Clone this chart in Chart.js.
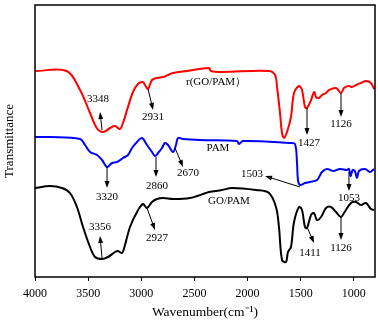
<!DOCTYPE html>
<html>
<head>
<meta charset="utf-8">
<script src="https://cdn.jsdelivr.net/npm/chart.js@4.4.1/dist/chart.umd.min.js"></script>
<style>
  html, body { margin: 0; padding: 0; background: #fff; }
  canvas { display: block; }
</style>
</head>
<body>
<canvas id="ftirChart" width="378" height="326"></canvas>
<script>
// x axis: wavenumber (cm-1), drawn from 4000 down to 800
const xTicks = [4000, 3500, 3000, 2500, 2000, 1500, 1000];

// r(GO/PAM) - red
const redWn = [4000, 3702, 3576, 3482, 3419, 3360, 3294, 3247, 3200, 3172, 3125, 3078, 3031, 2984, 2965, 2936, 2899, 2852, 2795, 2701, 2569, 2362, 2344, 2240, 1798, 1741, 1722, 1694, 1675, 1656, 1628, 1591, 1562, 1515, 1487, 1459, 1440, 1402, 1374, 1355, 1327, 1299, 1261, 1233, 1167, 1120, 1092, 1045, 1016, 979, 932, 885, 838, 809];
const redT = [206, 206, 187, 164, 149, 145, 149, 151, 148, 154, 170, 185, 193, 195, 192, 188, 197, 199, 200, 204, 206, 209, 206, 205, 206, 202, 190, 164, 144, 139, 145, 160, 184, 191, 187, 170, 169, 177, 185, 180, 179, 182, 184, 187, 189, 184, 189, 191, 190, 192, 194, 196, 194, 188];

// PAM - blue
const blueWn = [4000, 3859, 3576, 3529, 3482, 3416, 3369, 3322, 3275, 3228, 3172, 3125, 3087, 3040, 2993, 2946, 2899, 2871, 2842, 2805, 2776, 2748, 2701, 2673, 2654, 2607, 2447, 2099, 2080, 2042, 1600, 1553, 1534, 1525, 1506, 1459, 1412, 1346, 1299, 1252, 1195, 1129, 1064, 1045, 1030, 1010, 990, 969, 951, 894, 847, 809];
const blueT = [140, 140, 138, 132, 125, 122, 117, 110, 114, 115, 119, 122, 129, 135, 139, 132, 125, 121, 124, 129, 134, 132, 125, 132, 139, 138, 137, 136, 133, 136, 134, 133, 114, 97, 92, 94, 95, 97, 105, 108, 106, 108, 107, 108, 101, 107, 106, 99, 106, 108, 105, 108];

// GO/PAM - black
const blackWn = [4000, 3859, 3746, 3671, 3605, 3548, 3482, 3435, 3369, 3313, 3247, 3219, 3181, 3153, 3106, 3040, 2984, 2946, 2899, 2852, 2795, 2701, 2541, 2391, 2362, 2240, 2146, 1920, 1798, 1732, 1704, 1675, 1638, 1619, 1591, 1562, 1515, 1487, 1459, 1440, 1402, 1374, 1346, 1308, 1261, 1214, 1167, 1120, 1092, 1026, 979, 932, 885, 838, 809];
const blackT = [89, 91, 89, 84, 70, 50, 30, 20, 18, 20, 25, 26, 24, 32, 50, 65, 73, 69, 75, 78, 79, 78, 79, 84, 85, 87, 89, 87, 84, 70, 50, 17, 15, 25, 30, 55, 70, 67, 50, 49, 62, 64, 57, 60, 69, 70, 65, 60, 64, 74, 75, 72, 74, 68, 67];

// peak labels and curve names, placed in data units (wavenumber, transmittance)
const notes = [
    { text: '3348', x: 3407, y: 178 },
    { text: '2931', x: 2889, y: 160 },
    { text: 'r(GO/PAM\uFF09', x: 2296, y: 195 },
    { text: '1427', x: 1421, y: 134 },
    { text: '1126', x: 1120, y: 153 },
    { text: 'PAM', x: 2278, y: 129 },
    { text: '3320', x: 3322, y: 80 },
    { text: '2860', x: 2852, y: 91 },
    { text: '2670', x: 2560, y: 104 },
    { text: '1503', x: 1958, y: 103 },
    { text: '1053', x: 1045, y: 79 },
    { text: 'GO/PAM', x: 2174, y: 76 },
    { text: '3356', x: 3388, y: 50 },
    { text: '2927', x: 2852, y: 39 },
    { text: '1411', x: 1412, y: 24 },
    { text: '1126', x: 1120, y: 29 }
];

// arrows: from the curve to the head
const arrows = [
    [3369, 147, 3388, 165],
    [2936, 188, 2889, 167],
    [1440, 169, 1440, 142],
    [1120, 184, 1120, 160],
    [3322, 110, 3322, 89],
    [2861, 120, 2861, 100],
    [2682, 129, 2607, 110],
    [1506, 90, 1835, 101],
    [1045, 105, 1045, 86],
    [3369, 19, 3388, 41],
    [2946, 69, 2871, 47],
    [1440, 50, 1374, 34],
    [1120, 60, 1120, 37]
];

const serif = 'Liberation Serif, Times New Roman, serif';

function toPoints(xs, ys) {
    return xs.map((x, i) => ({ x: x, y: ys[i] }));
}

// frame, arrows and labels
const annotations = {
    id: 'annotations',
    afterDatasetsDraw(chart) {
        const ctx = chart.ctx;
        const xs = chart.scales.x;
        const ys = chart.scales.y;
        const a = chart.chartArea;
        ctx.save();
        ctx.strokeStyle = '#000';
        ctx.fillStyle = '#000';

        // arrows
        ctx.lineWidth = 1;
        arrows.forEach(([x1, y1, x2, y2]) => {
            const px1 = xs.getPixelForValue(x1), py1 = ys.getPixelForValue(y1);
            const px2 = xs.getPixelForValue(x2), py2 = ys.getPixelForValue(y2);
            const ang = Math.atan2(py2 - py1, px2 - px1);
            ctx.beginPath();
            ctx.moveTo(px1, py1);
            ctx.lineTo(px2 - 4 * Math.cos(ang), py2 - 4 * Math.sin(ang));
            ctx.stroke();
            ctx.beginPath();
            ctx.moveTo(px2, py2);
            ctx.lineTo(px2 - 7 * Math.cos(ang) + 2.5 * Math.sin(ang), py2 - 7 * Math.sin(ang) - 2.5 * Math.cos(ang));
            ctx.lineTo(px2 - 7 * Math.cos(ang) - 2.5 * Math.sin(ang), py2 - 7 * Math.sin(ang) + 2.5 * Math.cos(ang));
            ctx.closePath();
            ctx.fill();
        });

        // labels
        ctx.font = '11px ' + serif;
        ctx.textAlign = 'center';
        ctx.textBaseline = 'middle';
        notes.forEach(n => {
            ctx.fillText(n.text, xs.getPixelForValue(n.x), ys.getPixelForValue(n.y));
        });

        // box around the plot
        ctx.lineWidth = 1.5;
        ctx.strokeRect(a.left, a.top, a.right - a.left, a.bottom - a.top);
        ctx.restore();
    }
};

const ctx = document.getElementById('ftirChart').getContext('2d');
const chart = new Chart(ctx, {
    type: 'scatter',
    data: {
        datasets: [
            { label: 'r(GO/PAM)', data: toPoints(redWn, redT), borderColor: '#ff0000' },
            { label: 'PAM', data: toPoints(blueWn, blueT), borderColor: '#0000ff' },
            { label: 'GO/PAM', data: toPoints(blackWn, blackT), borderColor: '#000000' }
        ]
    },
    options: {
        responsive: false,
        animation: false,
        devicePixelRatio: 1,
        layout: { padding: { top: 5, right: 3, left: 0, bottom: 0 } },
        datasets: {
            scatter: { showLine: true, pointRadius: 0, borderWidth: 2, tension: 0.35 }
        },
        scales: {
            x: {
                type: 'linear',
                reverse: true,
                min: 800,
                max: 4000,
                afterBuildTicks: scale => { scale.ticks = xTicks.map(v => ({ value: v })); },
                afterFit: scale => { scale.height = 49; },
                ticks: {
                    color: '#000',
                    font: { family: serif, size: 12 },
                    padding: 6,
                    maxRotation: 0,
                    callback: v => String(v)
                },
                grid: { drawOnChartArea: false, drawTicks: true, tickLength: 4, color: '#000', lineWidth: 1 },
                border: { display: false },
                title: {
                    display: true,
                    text: 'Wavenumber(cm\u207B\u00B9)',
                    color: '#000',
                    font: { family: serif, size: 13.5 },
                    padding: { top: 0, bottom: 5 }
                }
            },
            y: {
                min: 0,
                max: 272,
                afterFit: scale => { scale.width = 35; },
                ticks: { display: false },
                grid: { display: false },
                border: { display: false },
                title: {
                    display: true,
                    text: 'Transmittance',
                    color: '#000',
                    font: { family: serif, size: 13 },
                    padding: { top: 2, bottom: 0 }
                }
            }
        },
        plugins: {
            legend: { display: false },
            tooltip: { enabled: false }
        }
    },
    plugins: [annotations]
});
</script>
</body>
</html>
